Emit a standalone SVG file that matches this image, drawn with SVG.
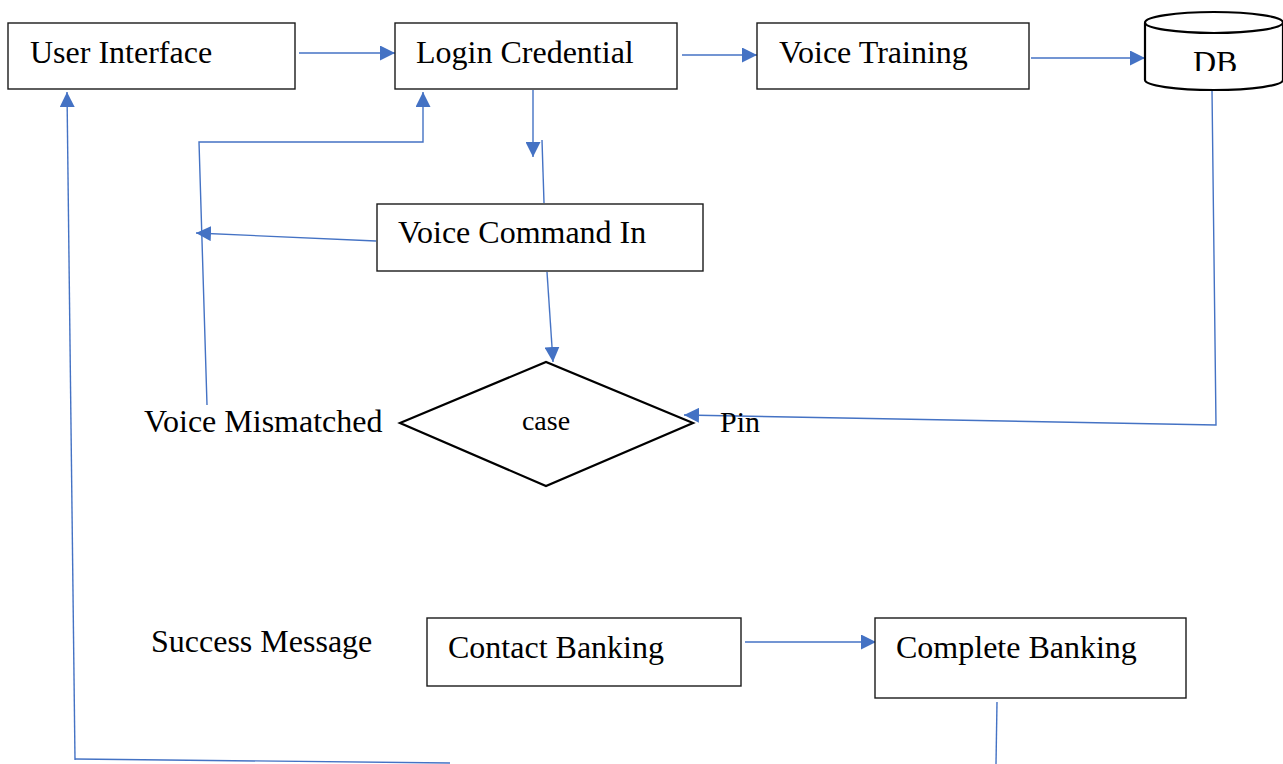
<svg xmlns="http://www.w3.org/2000/svg" width="1283" height="764" viewBox="0 0 1283 764">
<style>
.box{fill:#fff;stroke:#1a1a1a;stroke-width:1.4}
.shape{fill:#fff;stroke:#000;stroke-width:2.2}
.t{font-family:"Liberation Serif","Times New Roman",serif;font-size:32px;fill:#000}
.c{stroke:#4472C4;stroke-width:1.4;fill:none}
</style>
<defs>
<marker id="ah" viewBox="0 0 15 15" refX="15" refY="7.5" markerWidth="15" markerHeight="15" markerUnits="userSpaceOnUse" orient="auto">
<path d="M0,0 L15,7.5 L0,15 z" fill="#4472C4"/>
</marker>
<clipPath id="dbclip"><rect x="1140" y="0" width="143" height="71"/></clipPath>
</defs>
<rect width="1283" height="764" fill="#fff"/>
<g id="connectors">
<path class="c" d="M299,53 L395,53" marker-end="url(#ah)"/>
<path class="c" d="M682,55 L757,55" marker-end="url(#ah)"/>
<path class="c" d="M1031,58 L1145,58" marker-end="url(#ah)"/>
<path class="c" d="M533,90 L533,157" marker-end="url(#ah)"/>
<path class="c" d="M542,140 L544,203"/>
<path class="c" d="M207,405 L199,142 L423,142 L423,92" marker-end="url(#ah)"/>
<path class="c" d="M376,241 L196,233" marker-end="url(#ah)"/>
<path class="c" d="M547,272 L553,362" marker-end="url(#ah)"/>
<path class="c" d="M1212,90 L1216,425 L684,415" marker-end="url(#ah)"/>
<path class="c" d="M75,760 L67,92" marker-end="url(#ah)"/>
<path class="c" d="M75,759 L450,763"/>
<path class="c" d="M997,702 L996,764"/>
<path class="c" d="M745,642 L876,642" marker-end="url(#ah)"/>
</g>
<g id="user-interface">
<rect class="box" x="8" y="23" width="287" height="66"/>
<text class="t" x="30" y="63">User Interface</text>
</g>
<g id="login-credential">
<rect class="box" x="395" y="23" width="282" height="66"/>
<text class="t" x="416" y="63">Login Credential</text>
</g>
<g id="voice-training">
<rect class="box" x="757" y="23" width="272" height="66"/>
<text class="t" x="779" y="63">Voice Training</text>
</g>
<g id="db">
<path class="shape" d="M1145,23 L1145,80 A69,10 0 0 0 1283,80 L1283,23"/>
<ellipse class="shape" cx="1214" cy="22.5" rx="69" ry="10.5"/>
<text class="t" x="1193" y="73" clip-path="url(#dbclip)">DB</text>
</g>
<g id="voice-command-in">
<rect class="box" x="377" y="204" width="326" height="67"/>
<text class="t" x="398" y="243">Voice Command In</text>
</g>
<g id="case">
<polygon class="shape" points="400,423 546,362 693,423 546,486"/>
<text class="t" x="546" y="430" text-anchor="middle" style="font-size:28px">case</text>
</g>
<g id="voice-mismatched">
<text class="t" x="144" y="432">Voice Mismatched</text>
</g>
<g id="pin">
<text class="t" x="720" y="432" style="font-size:30px">Pin</text>
</g>
<g id="success-message">
<text class="t" x="151" y="652">Success Message</text>
</g>
<g id="contact-banking">
<rect class="box" x="427" y="618" width="314" height="68"/>
<text class="t" x="448" y="658">Contact Banking</text>
</g>
<g id="complete-banking">
<rect class="box" x="875" y="618" width="311" height="80"/>
<text class="t" x="896" y="658">Complete Banking</text>
</g>
</svg>
